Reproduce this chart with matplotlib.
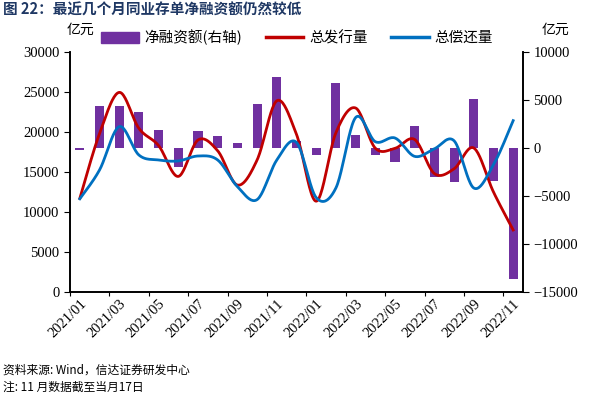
import numpy as np
import matplotlib.pyplot as plt
from matplotlib.patches import Patch
from matplotlib.lines import Line2D

plt.rcParams['font.family'] = ['Noto Sans CJK SC', 'DejaVu Sans']

months = ['2021/01', '2021/02', '2021/03', '2021/04', '2021/05', '2021/06',
          '2021/07', '2021/08', '2021/09', '2021/10', '2021/11', '2021/12',
          '2022/01', '2022/02', '2022/03', '2022/04', '2022/05', '2022/06',
          '2022/07', '2022/08', '2022/09', '2022/10', '2022/11']
# 净融资额 (right axis)
net_financing = [-200, 4400, 4340, 3720, 1840, -1950, 1800, 1280, 480, 4580, 7430, 700,
                 -730, 6770, 1320, -730, -1420, 2290, -3050, -3570, 5070, -3470, -13670]
# 总发行量 / 总偿还量 (left axis)
issuance = [11700, 19800, 24950, 20450, 18300, 14450, 19000, 17650, 13370, 16500, 23900, 19700,
            11350, 19900, 23000, 17980, 17960, 19060, 14800, 15400, 18000, 12500, 7750]
repayment = [11650, 15250, 20670, 17120, 16500, 16380, 17000, 16500, 13170, 11550, 16500, 18700,
             11800, 13000, 21800, 18790, 19250, 16950, 17900, 18900, 13000, 15900, 21420]


def smooth(y, n=24):
    # excel-like smoothed line (bezier through the points)
    x = np.arange(len(y), dtype=float)
    y = np.asarray(y, dtype=float)
    px = np.concatenate([[x[0]], x, [x[-1]]])
    py = np.concatenate([[y[0]], y, [y[-1]]])
    xs, ys = [], []
    t = np.linspace(0, 1, n)
    for i in range(len(y) - 1):
        p0 = np.array([x[i], y[i]])
        p3 = np.array([x[i + 1], y[i + 1]])
        c1 = p0 + (np.array([px[i + 2], py[i + 2]]) - np.array([px[i], py[i]])) / 6
        c2 = p3 - (np.array([px[i + 3], py[i + 3]]) - np.array([px[i + 1], py[i + 1]])) / 6
        b = ((1 - t) ** 3)[:, None] * p0 + (3 * (1 - t) ** 2 * t)[:, None] * c1 \
            + (3 * (1 - t) * t ** 2)[:, None] * c2 + (t ** 3)[:, None] * p3
        xs.extend(b[:, 0])
        ys.extend(b[:, 1])
    return xs, ys


fig = plt.figure(figsize=(5.94, 3.93), dpi=100)
ax = fig.add_axes([0.1178, 0.257, 0.7627, 0.6107])
ax2 = ax.twinx()

purple = '#7030A0'
red = '#C00000'
blue = '#0070C0'

x = np.arange(len(months))
ax.bar(x, net_financing, width=0.46, color=purple)
ax.set_ylim(-15000, 10000)
ax.set_yticks(range(-15000, 10001, 5000))
ax.yaxis.tick_right()

xs, ys = smooth(issuance)
ax2.plot(xs, ys, color=red, lw=2.0)
xs, ys = smooth(repayment)
ax2.plot(xs, ys, color=blue, lw=2.0)
ax2.set_ylim(0, 30000)
ax2.set_yticks(range(0, 30001, 5000))
ax2.yaxis.tick_left()

ax.set_xlim(-0.5, len(months) - 0.5)
ax.set_xticks(np.arange(-0.5, len(months), 2))
ax.set_xticklabels([])
ax.set_xticks(x[::2], minor=True)
ax.set_xticklabels(months[::2], minor=True, rotation=45, ha='right', va='top',
                   rotation_mode='anchor', fontsize=10.5)
ax.tick_params(axis='x', which='minor', length=0, pad=4, labelfontfamily='Liberation Serif')
ax.tick_params(axis='x', which='major', direction='out', length=3)

for a in (ax, ax2):
    a.spines['top'].set_visible(False)
    for s in a.spines.values():
        s.set_linewidth(1.2)
    a.tick_params(axis='y', direction='out', length=4, labelsize=10.5,
                  labelfontfamily='Liberation Serif')

fig.text(0.135, 0.925, '亿元', fontsize=10, ha='center', va='center')
fig.text(0.935, 0.925, '亿元', fontsize=10, ha='center', va='center')

handles = [Patch(color=purple), Line2D([], [], color=red, lw=2.5), Line2D([], [], color=blue, lw=2.5)]
fig.legend(handles, ['净融资额(右轴)', '总发行量', '总偿还量'], loc='center',
           bbox_to_anchor=(0.5, 0.905), ncol=3, frameon=False, fontsize=10.5,
           handlelength=2.6, handleheight=0.8, columnspacing=1.6, handletextpad=0.4)

fig.text(0.005, 0.975, '图 22：最近几个月同业存单净融资额仍然较低', fontsize=10.5,
         fontweight='bold', color='#1F3864', ha='left', va='center')
fig.text(0.005, 0.058, '资料来源: Wind，信达证券研发中心', fontsize=8.5, style='italic',
         ha='left', va='center')
fig.text(0.005, 0.015, '注: 11 月数据截至当月17日', fontsize=8.5, style='italic',
         ha='left', va='center')

fig.savefig('out.png', dpi=100)
